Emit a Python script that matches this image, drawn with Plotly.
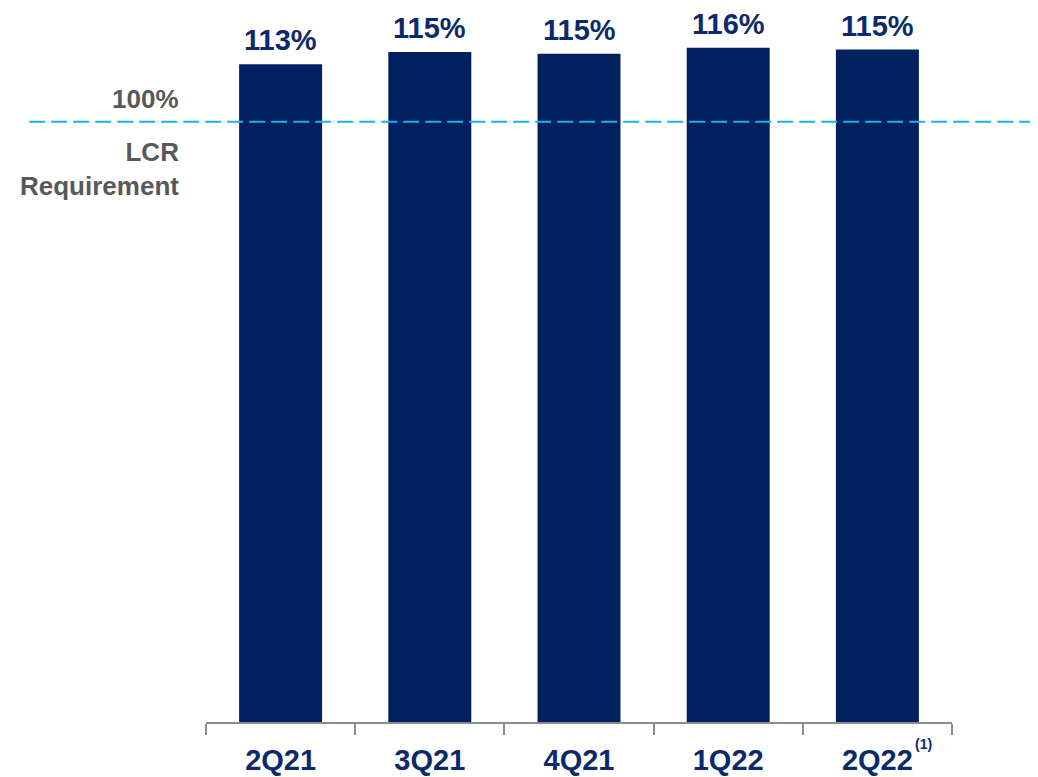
import plotly.graph_objects as go

# Data
quarters = ["2Q21", "3Q21", "4Q21", "1Q22", "2Q22"]
tick_labels = ["2Q21", "3Q21", "4Q21", "1Q22", "2Q22"]
footnote_quarter = "2Q22"
footnote_text = "(1)"
lcr_values = [113.0, 115.1, 114.8, 115.8, 115.5]
bar_labels = ["113%", "115%", "115%", "116%", "115%"]
requirement_label = "100%"
requirement_line_level = 103.1  # where the dashed line is drawn in the picture
requirement_text = "LCR<br>Requirement"

BAR = "#002060"
TXT = "#0C2A6B"
GRAY = "#595959"
FONT = "Liberation Sans, Arial, sans-serif"

fig = go.Figure()
fig.add_trace(go.Bar(
    x=quarters, y=lcr_values, marker=dict(color=BAR, line=dict(width=0)),
    width=0.556, hoverinfo="skip",
))

for q, v, t in zip(quarters, lcr_values, bar_labels):
    fig.add_annotation(x=q, y=v, text=t, showarrow=False, yanchor="bottom",
                       yshift=7, borderpad=0,
                       font=dict(family=FONT, size=29, color=TXT, weight="bold"))

# footnote marker on the last tick label
fig.add_annotation(x=footnote_quarter, xref="x", y=0, yref="paper", text=footnote_text,
                   showarrow=False, xanchor="left", yanchor="top", xshift=36, yshift=-12,
                   font=dict(family=FONT, size=14, color=TXT, weight="bold"))

# dashed requirement line
fig.add_shape(type="line", xref="paper", yref="y",
              x0=-0.237, x1=1.2, y0=requirement_line_level, y1=requirement_line_level,
              line=dict(color="#1AB2E8", width=2, dash="16px,6px"), layer="above")

fig.add_annotation(xref="paper", x=-0.033, y=requirement_line_level, yref="y",
                   text=requirement_label, showarrow=False, xanchor="right", yanchor="middle",
                   yshift=23, align="right",
                   font=dict(family=FONT, size=26, color=GRAY, weight="bold"))
fig.add_annotation(xref="paper", x=-0.033, y=requirement_line_level, yref="y",
                   text=requirement_text, showarrow=False, xanchor="right", yanchor="top",
                   yshift=-13, align="right",
                   font=dict(family=FONT, size=26, color=GRAY, weight="bold"))

fig.update_layout(
    width=1038, height=777,
    margin=dict(l=198, r=94, t=2, b=63),
    plot_bgcolor="white", paper_bgcolor="white",
    showlegend=False, bargap=0.444,
    xaxis=dict(
        tickmode="array", tickvals=quarters, ticktext=tick_labels,
        range=[-0.5, 4.5], showline=True, linecolor="#8C8C8C", linewidth=2,
        ticks="outside", tickson="boundaries", ticklen=11, tickwidth=2, tickcolor="#8C8C8C",
        showgrid=False, zeroline=False, ticklabelstandoff=11,
        tickfont=dict(family=FONT, size=29, color=TXT, weight="bold"),
    ),
    yaxis=dict(range=[0, 122.3], visible=False, showgrid=False, zeroline=False),
)

fig.write_html("out.html")
